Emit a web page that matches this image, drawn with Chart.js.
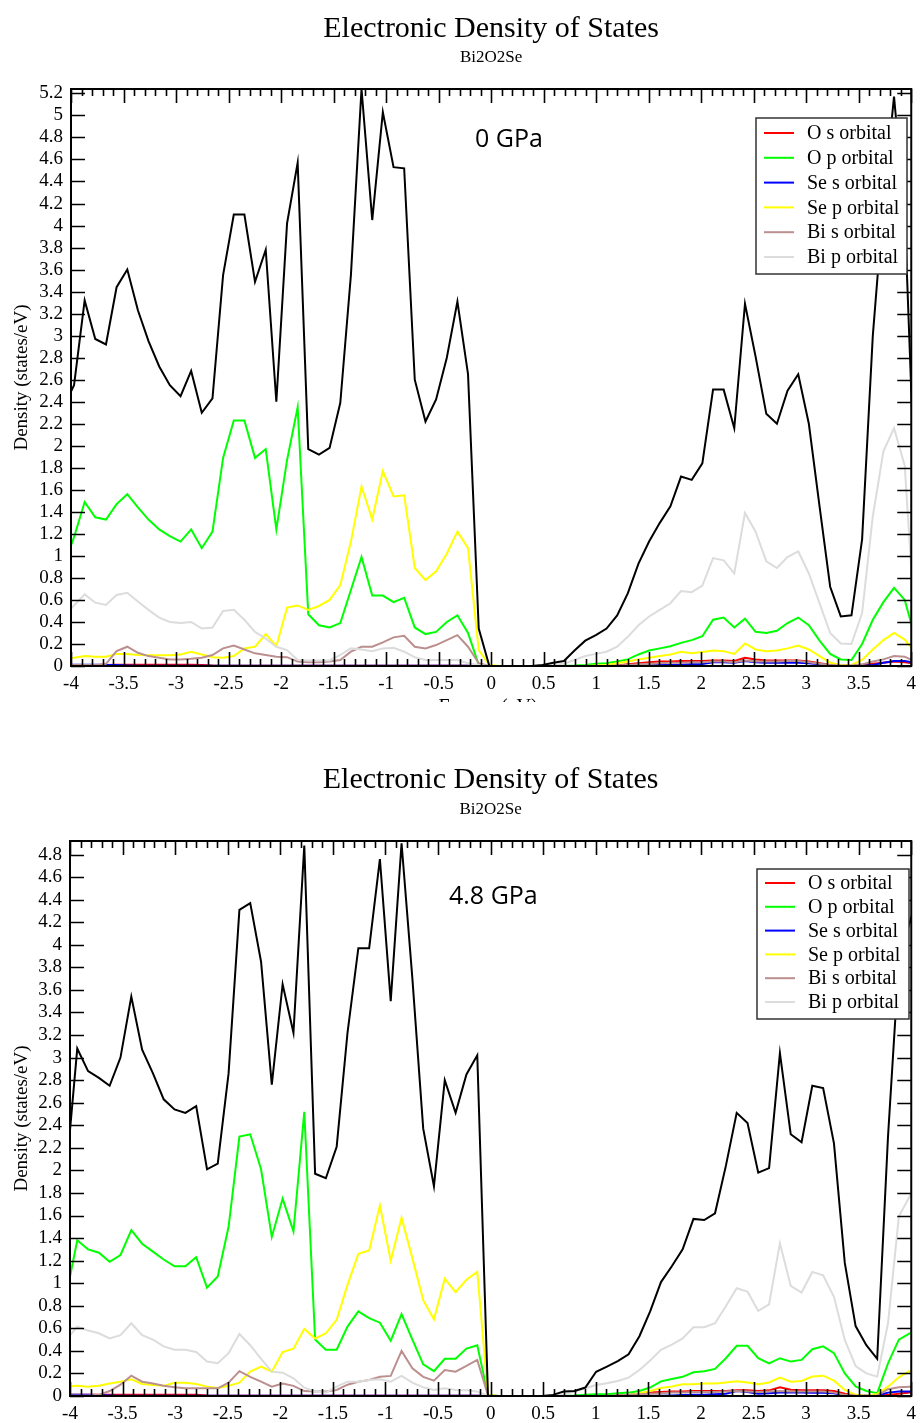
<!DOCTYPE html>
<html>
<head>
<meta charset="utf-8">
<script src="https://cdn.jsdelivr.net/npm/chart.js@4.4.1/dist/chart.umd.min.js"></script>
<style>
  body { margin: 0; background: #fff; width: 923px; height: 1423px; overflow: hidden; position: relative; }
  .panel { position: absolute; left: 0; width: 923px; overflow: hidden; }
</style>
</head>
<body>
<div class="panel" style="top:0;height:702px"><canvas id="dos0" width="923" height="702"></canvas></div>
<div class="panel" style="top:711px;height:712px"><canvas id="dos48" width="923" height="712"></canvas></div>
<script>
// ---- data (energy in eV, density in states/eV) ----
const ORBITAL_LABELS = ['O s orbital', 'O p orbital', 'Se s orbital', 'Se p orbital', 'Bi s orbital', 'Bi p orbital'];
const ORBITAL_COLORS = ['#ff0000', '#00ff00', '#0000ff', '#ffff00', '#bc8f8f', '#dcdcdc'];

// 0 GPa
const ENERGY_0GPA = [
  -4.073, -3.971, -3.870, -3.769, -3.667, -3.566, -3.464, -3.363, -3.262, -3.160,
  -3.059, -2.957, -2.856, -2.755, -2.653, -2.552, -2.450, -2.349, -2.248, -2.146,
  -2.045, -1.943, -1.842, -1.741, -1.639, -1.538, -1.436, -1.335, -1.234, -1.132,
  -1.031, -0.929, -0.828, -0.727, -0.625, -0.524, -0.422, -0.321, -0.220, -0.118,
  -0.017,
  0.085, 0.186, 0.287, 0.389, 0.490, 0.592, 0.693, 0.794, 0.896, 0.997,
  1.099, 1.200, 1.301, 1.403, 1.504, 1.606, 1.707, 1.808, 1.910, 2.011,
  2.113, 2.214, 2.315, 2.417, 2.518, 2.620, 2.721, 2.822, 2.924, 3.025,
  3.127, 3.228, 3.329, 3.431, 3.532, 3.634, 3.735, 3.836, 3.938, 4.039
];
const TOTAL_0GPA = [
  2.35, 2.55, 3.32, 2.97, 2.92, 3.44, 3.60, 3.23, 2.95, 2.72,
  2.55, 2.45, 2.68, 2.30, 2.43, 3.55, 4.10, 4.10, 3.49, 3.78,
  2.40, 4.02, 4.57, 1.97, 1.92, 1.98, 2.39, 3.55, 5.24, 4.05,
  5.03, 4.53, 4.52, 2.60, 2.22, 2.42, 2.80, 3.31, 2.65, 0.34,
  0,
  0, 0, 0, 0, 0.01, 0.03, 0.045, 0.14, 0.23, 0.28,
  0.34, 0.46, 0.66, 0.93, 1.13, 1.30, 1.45, 1.72, 1.69, 1.84,
  2.51, 2.51, 2.16, 3.29, 2.81, 2.29, 2.20, 2.50, 2.65, 2.20,
  1.45, 0.72, 0.45, 0.46, 1.15, 3.00, 4.20, 5.17, 4.10, 1.50
];
const O_S_0GPA = [
  0.008, 0.008, 0.008, 0.01, 0.01, 0.012, 0.012, 0.012, 0.012, 0.012,
  0.012, 0.012, 0.012, 0.008, 0.004, 0.003, 0.003, 0.003, 0.003, 0.003,
  0.003, 0.003, 0.002, 0.002, 0.002, 0.002, 0.002, 0.002, 0.002, 0.002,
  0.002, 0.002, 0.002, 0.002, 0.002, 0.002, 0.002, 0.002, 0.002, 0,
  0,
  0, 0, 0, 0, 0, 0, 0, 0, 0, 0,
  0, 0.005, 0.015, 0.025, 0.035, 0.04, 0.04, 0.045, 0.045, 0.045,
  0.05, 0.05, 0.045, 0.075, 0.06, 0.05, 0.05, 0.05, 0.05, 0.04,
  0.025, 0.01, 0.005, 0.005, 0.01, 0.02, 0.03, 0.04, 0.035, 0.02
];
const O_P_0GPA = [
  0.90, 1.17, 1.49, 1.35, 1.33, 1.47, 1.56, 1.44, 1.33, 1.24,
  1.18, 1.13, 1.24, 1.07, 1.22, 1.89, 2.23, 2.23, 1.89, 1.97,
  1.24, 1.87, 2.35, 0.47, 0.37, 0.35, 0.39, 0.69, 0.99, 0.64,
  0.64, 0.58, 0.62, 0.35, 0.29, 0.31, 0.40, 0.46, 0.30, 0.01,
  0,
  0, 0, 0, 0, 0, 0, 0.003, 0.005, 0.01, 0.02,
  0.025, 0.04, 0.06, 0.105, 0.14, 0.16, 0.18, 0.21, 0.235, 0.27,
  0.42, 0.44, 0.35, 0.43, 0.31, 0.30, 0.32, 0.39, 0.44, 0.37,
  0.23, 0.11, 0.06, 0.055, 0.20, 0.42, 0.58, 0.71, 0.60, 0.25
];
const SE_S_0GPA = [
  0.012, 0.012, 0.012, 0.012, 0.01, 0.008, 0.005, 0.003, 0.002, 0.002,
  0.002, 0.002, 0.002, 0.002, 0.002, 0.002, 0.002, 0.002, 0.002, 0.002,
  0.002, 0.002, 0.002, 0.002, 0.002, 0.002, 0.002, 0.002, 0.002, 0.002,
  0.002, 0.002, 0.002, 0.002, 0.002, 0.002, 0.002, 0.002, 0.002, 0,
  0,
  0, 0, 0, 0, 0, 0, 0, 0, 0, 0,
  0, 0, 0, 0.003, 0.005, 0.008, 0.01, 0.012, 0.015, 0.018,
  0.035, 0.035, 0.03, 0.045, 0.035, 0.03, 0.03, 0.03, 0.03, 0.025,
  0.015, 0.005, 0.002, 0.002, 0.002, 0.01, 0.03, 0.045, 0.045, 0.03
];
const SE_P_0GPA = [
  0.065, 0.075, 0.09, 0.085, 0.085, 0.11, 0.11, 0.10, 0.097, 0.097,
  0.097, 0.105, 0.13, 0.105, 0.08, 0.075, 0.09, 0.16, 0.175, 0.29,
  0.18, 0.53, 0.55, 0.51, 0.545, 0.60, 0.735, 1.13, 1.63, 1.33,
  1.77, 1.54, 1.55, 0.89, 0.78, 0.86, 1.02, 1.22, 1.07, 0.145,
  0.01,
  0, 0, 0, 0, 0, 0, 0, 0, 0, 0.005,
  0.01, 0.025, 0.04, 0.06, 0.075, 0.09, 0.105, 0.13, 0.115, 0.127,
  0.14, 0.135, 0.11, 0.205, 0.15, 0.135, 0.14, 0.16, 0.185, 0.15,
  0.09, 0.03, 0.01, 0.01, 0.055, 0.15, 0.235, 0.30, 0.24, 0.12
];
const BI_S_0GPA = [
  0.01, 0.01, 0.01, 0.01, 0.02, 0.135, 0.175, 0.12, 0.09, 0.075,
  0.06, 0.06, 0.065, 0.075, 0.10, 0.16, 0.185, 0.15, 0.115, 0.10,
  0.085, 0.08, 0.04, 0.035, 0.035, 0.04, 0.055, 0.13, 0.175, 0.175,
  0.215, 0.26, 0.275, 0.175, 0.16, 0.19, 0.235, 0.28, 0.175, 0.025,
  0,
  0, 0, 0, 0, 0, 0, 0, 0, 0, 0,
  0, 0.005, 0.01, 0.015, 0.02, 0.025, 0.03, 0.03, 0.035, 0.035,
  0.04, 0.04, 0.035, 0.05, 0.04, 0.04, 0.04, 0.045, 0.045, 0.035,
  0.02, 0.01, 0.005, 0.005, 0.015, 0.04, 0.06, 0.09, 0.085, 0.04
];
const BI_P_0GPA = [
  0.45, 0.55, 0.65, 0.575, 0.555, 0.645, 0.665, 0.585, 0.51, 0.44,
  0.40, 0.39, 0.40, 0.34, 0.35, 0.50, 0.51, 0.42, 0.31, 0.25,
  0.175, 0.145, 0.055, 0.05, 0.05, 0.05, 0.10, 0.16, 0.15, 0.135,
  0.16, 0.165, 0.13, 0.08, 0.055, 0.055, 0.055, 0.055, 0.025, 0.01,
  0,
  0, 0, 0, 0, 0.005, 0.01, 0.02, 0.055, 0.09, 0.11,
  0.13, 0.175, 0.265, 0.37, 0.45, 0.51, 0.57, 0.68, 0.67, 0.73,
  0.98, 0.96, 0.84, 1.39, 1.22, 0.95, 0.89, 0.99, 1.04, 0.84,
  0.57, 0.30, 0.205, 0.20, 0.48, 1.36, 1.95, 2.16, 1.82, 0.30
];

// 4.8 GPa
const ENERGY_48GPA = [
  -4.034, -3.931, -3.828, -3.725, -3.623, -3.520, -3.417, -3.314, -3.211, -3.109,
  -3.006, -2.903, -2.800, -2.697, -2.595, -2.492, -2.389, -2.286, -2.183, -2.081,
  -1.978, -1.875, -1.772, -1.669, -1.567, -1.464, -1.361, -1.258, -1.155, -1.053,
  -0.950, -0.847, -0.744, -0.641, -0.539, -0.436, -0.333, -0.230, -0.127, -0.025,
  0.078, 0.181, 0.284, 0.387, 0.489, 0.592, 0.695, 0.798, 0.901, 1.003,
  1.106, 1.209, 1.312, 1.415, 1.517, 1.620, 1.723, 1.826, 1.929, 2.031,
  2.134, 2.237, 2.340, 2.443, 2.545, 2.648, 2.751, 2.854, 2.957, 3.059,
  3.162, 3.265, 3.368, 3.471, 3.573, 3.676, 3.779, 3.882, 3.985, 4.087
];
const TOTAL_48GPA = [
  2.00, 3.08, 2.88, 2.82, 2.75, 3.00, 3.54, 3.07, 2.86, 2.63,
  2.54, 2.51, 2.57, 2.01, 2.06, 2.86, 4.31, 4.37, 3.85, 2.76,
  3.65, 3.22, 4.88, 1.97, 1.93, 2.21, 3.22, 3.97, 3.97, 4.76,
  3.50, 4.90, 3.70, 2.37, 1.86, 2.80, 2.51, 2.85, 3.02, 0,
  0, 0, 0, 0, 0, 0.01, 0.04, 0.045, 0.075, 0.215,
  0.26, 0.31, 0.37, 0.53, 0.75, 1.01, 1.15, 1.30, 1.57, 1.56,
  1.62, 2.04, 2.51, 2.42, 1.98, 2.02, 3.04, 2.32, 2.25, 2.75,
  2.73, 2.24, 1.18, 0.62, 0.45, 0.33, 2.30, 3.85, 4.20, 4.50
];
const O_S_48GPA = [
  0.01, 0.01, 0.01, 0.01, 0.012, 0.012, 0.012, 0.012, 0.012, 0.012,
  0.012, 0.012, 0.01, 0.005, 0.003, 0.003, 0.003, 0.003, 0.003, 0.003,
  0.003, 0.003, 0.002, 0.002, 0.002, 0.002, 0.002, 0.002, 0.002, 0.002,
  0.002, 0.002, 0.002, 0.002, 0.002, 0.002, 0.002, 0.002, 0.002, 0,
  0, 0, 0, 0, 0, 0, 0, 0, 0, 0,
  0, 0.005, 0.01, 0.02, 0.03, 0.035, 0.04, 0.04, 0.045, 0.045,
  0.045, 0.045, 0.05, 0.05, 0.045, 0.05, 0.077, 0.055, 0.05, 0.05,
  0.05, 0.045, 0.02, 0.005, 0.003, 0.003, 0.01, 0.02, 0.03, 0.035
];
const O_P_48GPA = [
  0.90, 1.38, 1.30, 1.27, 1.19, 1.25, 1.47, 1.35, 1.28, 1.21,
  1.15, 1.15, 1.23, 0.96, 1.06, 1.50, 2.30, 2.32, 2.01, 1.41,
  1.75, 1.46, 2.52, 0.50, 0.41, 0.41, 0.615, 0.75, 0.69, 0.65,
  0.49, 0.725, 0.50, 0.28, 0.22, 0.33, 0.33, 0.42, 0.45, 0.01,
  0, 0, 0, 0, 0, 0, 0.003, 0.005, 0.01, 0.015,
  0.015, 0.025, 0.03, 0.045, 0.075, 0.13, 0.15, 0.17, 0.21, 0.22,
  0.24, 0.335, 0.445, 0.445, 0.335, 0.29, 0.335, 0.305, 0.32, 0.415,
  0.44, 0.38, 0.20, 0.085, 0.045, 0.025, 0.29, 0.50, 0.555, 0.60
];
const SE_S_48GPA = [
  0.012, 0.012, 0.012, 0.008, 0.004, 0.002, 0.002, 0.002, 0.002, 0.002,
  0.002, 0.002, 0.002, 0.002, 0.002, 0.002, 0.002, 0.002, 0.002, 0.002,
  0.002, 0.002, 0.002, 0.002, 0.002, 0.002, 0.002, 0.002, 0.002, 0.002,
  0.002, 0.002, 0.002, 0.002, 0.002, 0.002, 0.002, 0.002, 0.002, 0,
  0, 0, 0, 0, 0, 0, 0, 0, 0, 0,
  0, 0, 0, 0, 0.002, 0.003, 0.005, 0.008, 0.01, 0.012,
  0.015, 0.02, 0.044, 0.035, 0.02, 0.025, 0.03, 0.03, 0.03, 0.028,
  0.028, 0.025, 0.005, 0.002, 0.002, 0.005, 0.03, 0.04, 0.04, 0.042
];
const SE_P_48GPA = [
  0.08, 0.09, 0.083, 0.09, 0.11, 0.127, 0.148, 0.107, 0.098, 0.09,
  0.118, 0.118, 0.107, 0.083, 0.07, 0.09, 0.118, 0.216, 0.26, 0.216,
  0.39, 0.42, 0.595, 0.51, 0.556, 0.675, 0.985, 1.26, 1.29, 1.69,
  1.20, 1.58, 1.22, 0.85, 0.68, 1.04, 0.92, 1.03, 1.10, 0.01,
  0, 0, 0, 0, 0, 0, 0, 0, 0, 0,
  0, 0, 0.01, 0.025, 0.045, 0.07, 0.085, 0.105, 0.105, 0.11,
  0.11, 0.12, 0.13, 0.12, 0.105, 0.12, 0.163, 0.127, 0.133, 0.172,
  0.18, 0.136, 0.053, 0.01, 0.003, 0.018, 0.083, 0.166, 0.222, 0.25
];
const BI_S_48GPA = [
  0.005, 0.005, 0.005, 0.01, 0.044, 0.10, 0.18, 0.127, 0.11, 0.09,
  0.077, 0.068, 0.068, 0.068, 0.068, 0.118, 0.22, 0.17, 0.127, 0.083,
  0.11, 0.09, 0.044, 0.04, 0.04, 0.053, 0.10, 0.127, 0.142, 0.17,
  0.178, 0.40, 0.245, 0.17, 0.136, 0.23, 0.216, 0.266, 0.32, 0.005,
  0, 0, 0, 0, 0, 0, 0, 0, 0, 0,
  0, 0.005, 0.01, 0.015, 0.02, 0.025, 0.03, 0.03, 0.035, 0.035,
  0.035, 0.04, 0.045, 0.04, 0.035, 0.04, 0.045, 0.04, 0.04, 0.04,
  0.04, 0.03, 0.01, 0.005, 0.003, 0.003, 0.06, 0.077, 0.083, 0.085
];
const BI_P_48GPA = [
  0.50, 0.615, 0.58, 0.556, 0.51, 0.54, 0.645, 0.54, 0.50, 0.44,
  0.41, 0.41, 0.39, 0.305, 0.29, 0.38, 0.55, 0.45, 0.33, 0.216,
  0.207, 0.157, 0.074, 0.04, 0.03, 0.083, 0.127, 0.127, 0.142, 0.148,
  0.127, 0.178, 0.118, 0.077, 0.053, 0.068, 0.053, 0.05, 0.04, 0,
  0, 0, 0, 0, 0, 0.005, 0.015, 0.04, 0.068, 0.098,
  0.113, 0.133, 0.163, 0.23, 0.315, 0.41, 0.455, 0.51, 0.61, 0.61,
  0.645, 0.795, 0.955, 0.925, 0.754, 0.813, 1.355, 0.976, 0.917, 1.10,
  1.07, 0.88, 0.497, 0.266, 0.20, 0.172, 0.645, 1.59, 1.77, 1.90
];

const SERIF = '"Liberation Serif", "Times New Roman", serif';
const SANS = '"Open Sans", "Noto Sans", sans-serif';

// frame, inward ticks, legend box and the loose texts
const decor = {
  id: 'decor',
  afterDatasetsDraw(chart, args, o) {
    const { ctx, chartArea: a, scales: { x, y } } = chart;
    ctx.save();
    ctx.strokeStyle = '#000';
    ctx.lineWidth = 1.6;
    ctx.beginPath();
    for (let i = Math.round(x.min * 10); i <= Math.round(x.max * 10); i++) {
      const px = Math.round(x.getPixelForValue(i / 10)) + 0.5;
      const len = i % 5 === 0 ? 14 : 7;
      ctx.moveTo(px, a.bottom); ctx.lineTo(px, a.bottom - len);
      ctx.moveTo(px, a.top); ctx.lineTo(px, a.top + len);
    }
    y.ticks.forEach(t => {
      const py = Math.round(y.getPixelForValue(t.value)) + 0.5;
      ctx.moveTo(a.left, py); ctx.lineTo(a.left + 14, py);
      ctx.moveTo(a.right, py); ctx.lineTo(a.right - 14, py);
    });
    ctx.stroke();
    ctx.lineWidth = 2;
    ctx.strokeRect(a.left, a.top, a.width, a.height);

    // legend
    const L = o.legend;
    ctx.fillStyle = '#fff';
    ctx.fillRect(L.x, L.y, L.w, L.h);
    ctx.strokeStyle = '#333';
    ctx.lineWidth = 1.5;
    ctx.strokeRect(L.x, L.y, L.w, L.h);
    ctx.font = '20px ' + SERIF;
    ctx.textAlign = 'left';
    ctx.textBaseline = 'middle';
    chart.data.datasets.filter(d => d.inLegend).forEach((d, i) => {
      const ry = L.firstRow + i * L.rowGap;
      ctx.strokeStyle = d.borderColor;
      ctx.lineWidth = 2;
      ctx.beginPath();
      ctx.moveTo(L.x + 8, ry); ctx.lineTo(L.x + 38, ry);
      ctx.stroke();
      ctx.fillStyle = '#000';
      ctx.fillText(d.label, L.x + 51, ry + 1);
    });
    ctx.restore();
  },
  afterDraw(chart, args, o) {
    const { ctx, chartArea: a } = chart;
    const cx = (a.left + a.right) / 2;
    ctx.save();
    ctx.fillStyle = '#000';
    ctx.textAlign = 'center';
    ctx.textBaseline = 'middle';
    ctx.font = '30px ' + SERIF;
    ctx.fillText('Electronic Density of States', cx, o.titleY);
    ctx.font = '17px ' + SERIF;
    ctx.fillText('Bi2O2Se', cx, o.subtitleY);
    if (o.xTitleY) {
      ctx.font = '20px ' + SERIF;
      ctx.fillText('Energy (eV)', cx - 3, o.xTitleY);
    }
    ctx.textAlign = 'left';
    ctx.textBaseline = 'alphabetic';
    ctx.font = '25px ' + SANS;
    ctx.fillText(o.pressure.text, o.pressure.x, o.pressure.y);
    ctx.restore();
  }
};

function makeDos(canvasId, energy, total, orbitals, yMax, box) {
  const series = (vals) => energy.map((e, i) => ({ x: e, y: vals[i] }));
  const datasets = orbitals.map((vals, i) => ({
    label: ORBITAL_LABELS[i],
    data: series(vals),
    borderColor: ORBITAL_COLORS[i],
    inLegend: true,
  }));
  datasets.push({ label: 'Total', data: series(total), borderColor: '#000', inLegend: false });
  datasets.forEach((d, i) => { d.order = datasets.length - i; });

  const tickFont = { family: SERIF, size: 19 };
  const fmt = v => String(Math.round(v * 10) / 10);

  return new Chart(document.getElementById(canvasId), {
    type: 'line',
    data: { datasets },
    options: {
      responsive: false,
      animation: false,
      events: [],
      elements: {
        line: { borderWidth: 2, tension: 0 },
        point: { radius: 0 }
      },
      layout: { padding: { left: 0, right: box.padRight, top: box.top, bottom: 0 } },
      plugins: {
        legend: { display: false },
        tooltip: { enabled: false },
        decor: box.decor
      },
      scales: {
        x: {
          type: 'linear', min: -4, max: 4,
          grid: { display: false, drawTicks: false },
          border: { display: false },
          ticks: { stepSize: 0.5, autoSkip: false, maxRotation: 0, padding: 7, color: '#000', font: tickFont, callback: fmt },
          afterFit: s => { s.height = box.xAxisH; }
        },
        y: {
          min: 0, max: yMax,
          grid: { display: false, drawTicks: false },
          border: { display: false },
          ticks: { stepSize: 0.2, autoSkip: false, includeBounds: false, padding: 8, color: '#000', font: tickFont, callback: fmt },
          title: { display: true, text: 'Density (states/eV)', color: '#000', font: { family: SERIF, size: 19 }, padding: { top: 11, bottom: 0 } },
          afterFit: s => { s.width = box.left; }
        }
      }
    },
    plugins: [decor]
  });
}

makeDos('dos0', ENERGY_0GPA, TOTAL_0GPA,
  [O_S_0GPA, O_P_0GPA, SE_S_0GPA, SE_P_0GPA, BI_S_0GPA, BI_P_0GPA], 5.24,
  {
    left: 71, padRight: 4, top: 89, xAxisH: 36,
    decor: {
      titleY: 29, subtitleY: 58, xTitleY: 708,
      legend: { x: 756, y: 118, w: 151, h: 156, firstRow: 133, rowGap: 24.8 },
      pressure: { text: '0 GPa', x: 475, y: 147 }
    }
  });

makeDos('dos48', ENERGY_48GPA, TOTAL_48GPA,
  [O_S_48GPA, O_P_48GPA, SE_S_48GPA, SE_P_48GPA, BI_S_48GPA, BI_P_48GPA], 4.92,
  {
    left: 70, padRight: 3, top: 130, xAxisH: 27,
    decor: {
      titleY: 69, subtitleY: 99, xTitleY: 0,
      legend: { x: 757, y: 158, w: 152, h: 150, firstRow: 172, rowGap: 23.8 },
      pressure: { text: '4.8 GPa', x: 449, y: 193 }
    }
  });
</script>
</body>
</html>
